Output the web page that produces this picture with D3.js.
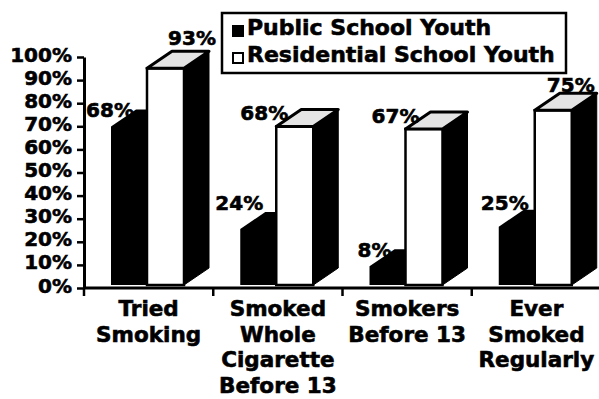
<!DOCTYPE html>
<html>
<head>
<meta charset="utf-8">
<script src="https://cdn.jsdelivr.net/npm/d3@7"></script>
<style>
  body { margin: 0; background: #fff; }
  svg { display: block; }
  text { font-family: "DejaVu Sans", sans-serif; font-weight: bold; fill: #000; stroke: #000; stroke-width: 0.6px; }
</style>
</head>
<body>
<script>
// chart values
var categories = [["Tried", "Smoking"], ["Smoked", "Whole", "Cigarette", "Before 13"], ["Smokers", "Before 13"], ["Ever", "Smoked", "Regularly"]];
var seriesNames = ["Public School Youth", "Residential School Youth"];
var publicYouth = [68, 24, 8, 25];
var residentialYouth = [93, 68, 67, 75];
var yTicks = [0, 10, 20, 30, 40, 50, 60, 70, 80, 90, 100];

// label nudges (hand placed in the original): [dx from bar front-left, dy from bar top]
var publicNudge = [[-1, -10], [-1, -19], [5, -9], [6, -17]];
var residentialNudge = [[45, -23], [-12, -7], [-10, -6], [36, -18]];

var W = 599, H = 399;
var depthX = 25, depthY = -17;

var svg = d3.select("body").append("svg")
  .attr("width", W).attr("height", H);

var x = d3.scaleBand().domain(d3.range(categories.length)).range([84, 601]);
var y = d3.scaleLinear().domain([0, 100]).range([288, 57]);
// bars sit a few px above the axis line
var yBar = y.copy().range([y(0) - 3, y(100) - 5]);

function blockPath(x0, w, v) {
  var top = yBar(v), base = yBar(0);
  return "M" + x0 + "," + base + "L" + x0 + "," + top +
    "L" + (x0 + depthX) + "," + (top + depthY) +
    "L" + (x0 + w + depthX) + "," + (top + depthY) +
    "L" + (x0 + w + depthX) + "," + (base + depthY) +
    "L" + (x0 + w) + "," + base + "Z";
}

var groups = svg.selectAll("g.grp")
  .data(categories.map(function(c, i) { return i; }))
  .enter().append("g").attr("class", "grp");

// public school: solid black block
groups.append("path")
  .attr("d", function(i) { return blockPath(x(i) + 27, 36, publicYouth[i]); })
  .attr("fill", "#000");

// residential school: white front, black side, light top
groups.each(function(i) {
  var g = d3.select(this);
  var x1 = x(i) + 63, w = 37;
  var top = yBar(residentialYouth[i]), base = yBar(0);
  g.append("path")
    .attr("d", "M" + (x1 + w) + "," + base + "L" + (x1 + w) + "," + top +
      "L" + (x1 + w + depthX) + "," + (top + depthY) +
      "L" + (x1 + w + depthX) + "," + (base + depthY) + "Z")
    .attr("fill", "#000").attr("stroke", "#000").attr("stroke-width", 1);
  g.append("rect")
    .attr("x", x1).attr("y", top)
    .attr("width", w).attr("height", base - top)
    .attr("fill", "#fff").attr("stroke", "#000").attr("stroke-width", 2.5);
  g.append("path")
    .attr("d", "M" + x1 + "," + top +
      "L" + (x1 + depthX) + "," + (top + depthY) +
      "L" + (x1 + w + depthX) + "," + (top + depthY) +
      "L" + (x1 + w) + "," + top + "Z")
    .attr("fill", "#e4e4e4").attr("stroke", "#000").attr("stroke-width", 3)
    .attr("stroke-linejoin", "round");
});

// y axis
var yAxis = svg.append("g")
  .attr("transform", "translate(84,0)")
  .call(d3.axisLeft(y).tickValues(yTicks).tickFormat(function(d) { return d + "%"; })
    .tickSize(7).tickSizeOuter(0).tickPadding(5));
yAxis.select(".domain").attr("stroke", "#000").attr("stroke-width", 3);
yAxis.selectAll(".tick line").attr("stroke", "#000").attr("stroke-width", 2.5);
yAxis.selectAll(".tick text")
  .attr("dy", "0.2em")
  .style("font-family", "DejaVu Sans").style("font-weight", "bold")
  .style("font-size", "20px").attr("fill", "#000");

// x axis line and ticks at band edges
svg.append("line")
  .attr("x1", x.range()[0] - 1).attr("x2", W)
  .attr("y1", y(0)).attr("y2", y(0))
  .attr("stroke", "#000").attr("stroke-width", 3);
svg.selectAll("line.xtick")
  .data(x.domain())
  .enter().append("line").attr("class", "xtick")
  .attr("x1", function(i) { return x(i); }).attr("x2", function(i) { return x(i); })
  .attr("y1", y(0)).attr("y2", y(0) + 8)
  .attr("stroke", "#000").attr("stroke-width", 2.5);

// category labels
groups.each(function(i) {
  var t = d3.select(this).append("text")
    .attr("text-anchor", "middle")
    .style("font-size", "21.5px");
  categories[i].forEach(function(line, k) {
    t.append("tspan")
      .attr("x", x(i) + x.bandwidth() / 2)
      .attr("y", 316 + k * 25.7)
      .text(line);
  });
});

// value labels
groups.append("text")
  .attr("text-anchor", "middle")
  .style("font-size", "20px")
  .attr("x", function(i) { return x(i) + 27 + publicNudge[i][0]; })
  .attr("y", function(i) { return yBar(publicYouth[i]) + publicNudge[i][1]; })
  .text(function(i) { return publicYouth[i] + "%"; });
groups.append("text")
  .attr("text-anchor", "middle")
  .style("font-size", "20px")
  .attr("x", function(i) { return x(i) + 63 + residentialNudge[i][0]; })
  .attr("y", function(i) { return yBar(residentialYouth[i]) + residentialNudge[i][1]; })
  .text(function(i) { return residentialYouth[i] + "%"; });

// legend
var legend = svg.append("g");
legend.append("rect")
  .attr("x", 222).attr("y", 13).attr("width", 344).attr("height", 60)
  .attr("fill", "#fff").attr("stroke", "#000").attr("stroke-width", 2.5);
var items = legend.selectAll("g.item")
  .data(seriesNames)
  .enter().append("g").attr("class", "item")
  .attr("transform", function(d, i) { return "translate(0," + (i * 27) + ")"; });
items.append("rect")
  .attr("x", 233).attr("y", 26).attr("width", 10).attr("height", 10)
  .attr("fill", function(d, i) { return i === 0 ? "#000" : "#fff"; })
  .attr("stroke", "#000").attr("stroke-width", 2);
items.append("text")
  .attr("x", 247).attr("y", 35)
  .style("font-size", "22px")
  .text(function(d) { return d; });
</script>
</body>
</html>
